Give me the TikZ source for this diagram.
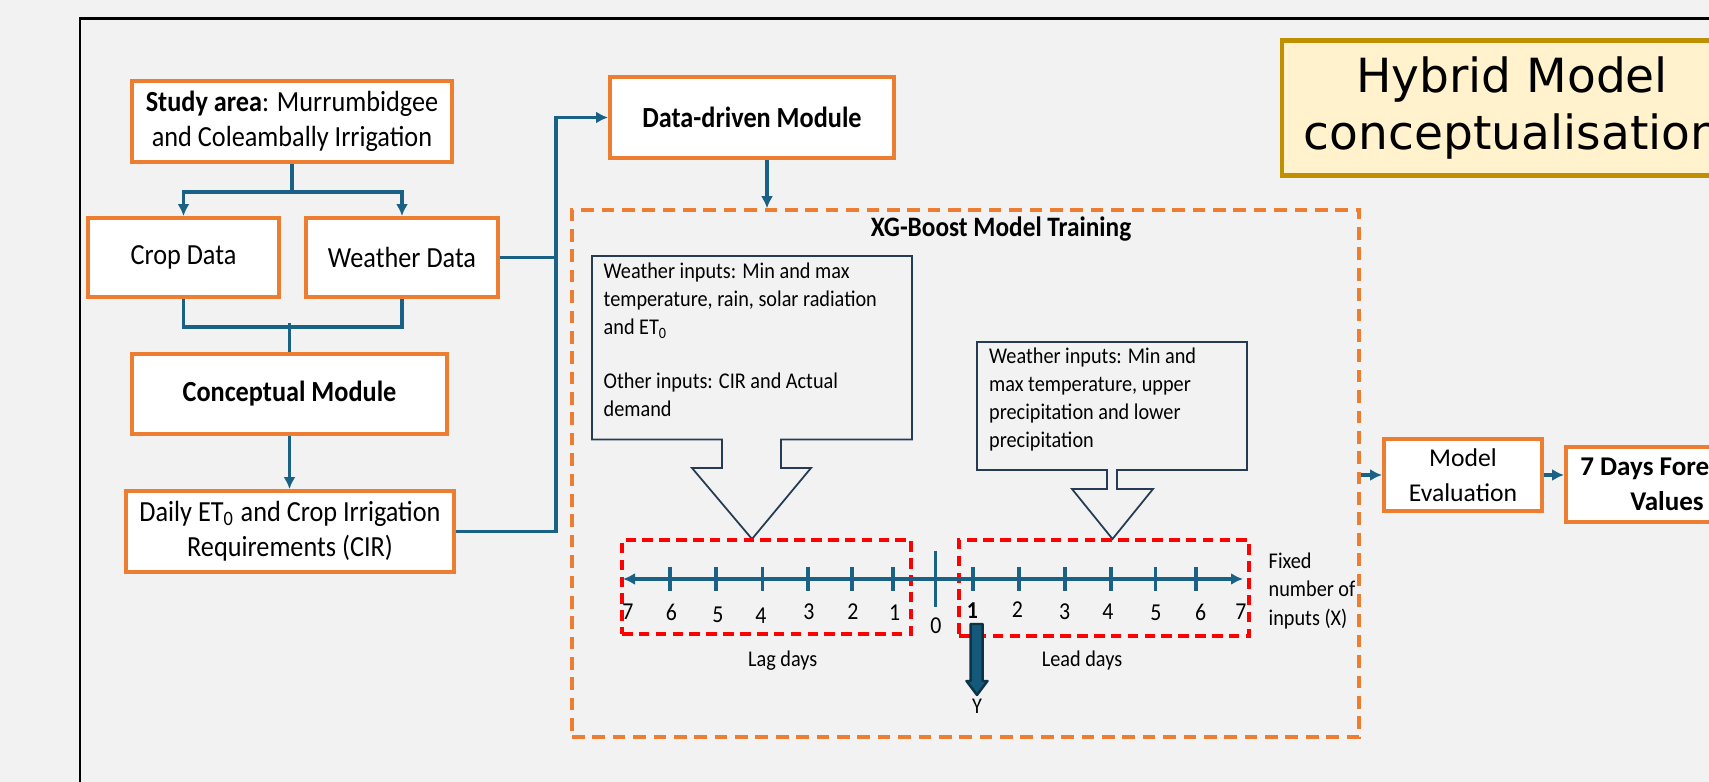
\documentclass[tikz,border=0pt]{standalone}
\usepackage{fontspec}
\setmainfont{Carlito}[FakeStretch=0.9]
\newfontfamily\widefont{Carlito}
\newfontfamily\titlefont{DejaVu Sans}
\usepackage{tikz}
\usetikzlibrary{arrows.meta}
\usetikzlibrary{calc}

\definecolor{bggray}{HTML}{F2F2F2}
\definecolor{boxorange}{HTML}{ED7D31}
\definecolor{linkblue}{HTML}{1A6285}
\definecolor{calloutblue}{HTML}{243B53}
\definecolor{titlegold}{HTML}{BF9000}
\definecolor{titlefill}{HTML}{FFF2CC}
\definecolor{yfill}{HTML}{15597A}
\definecolor{yedge}{HTML}{0E3347}

\begin{document}
\begin{tikzpicture}[x=0.1mm, y=-0.1mm,
	box/.style={draw=boxorange, line width=1.1pt, fill=white, align=center, inner sep=0pt, font=\fontsize{8.3}{10}\selectfont},
	conn/.style={draw=linkblue, line width=1.1pt},
	arr/.style={conn, -{Latex[length=1.2mm,width=1.2mm]}},
	callout/.style={draw=calloutblue, line width=0.5pt, line join=miter},
	small/.style={inner sep=0pt, font=\fontsize{6.4}{8}\selectfont},
	digit/.style={inner sep=0pt, font=\fontsize{6.9}{8}\selectfont},
	reddash/.style={draw=red, line width=1.1pt, dash pattern=on 3pt off 1.8pt},
	axis/.style={draw=linkblue, line width=1pt}]
	\useasboundingbox (0,0) rectangle (1709,782);
	\fill[bggray] (0,0) rectangle (1709,782);
	\clip (0,0) rectangle (1709,782);
	\draw[line width=0.7pt] (80,18.5) rectangle (1800,900);

	\node (title) at (1512,108) [draw=titlegold, line width=1.2pt, fill=titlefill, minimum width=46mm, minimum height=13.5mm, align=center, font=\titlefont\fontsize{13.4}{16.4}\selectfont] {Hybrid Model\\conceptualisation};

	\node (study) at (292,121.5) [box, minimum width=32mm, minimum height=8.1mm] {\textbf{Study area}: Murrumbidgee\\and Coleambally Irrigation};
	\node (crop) at (183.5,257.5) [box, minimum width=19.1mm, minimum height=7.9mm] {Crop Data};
	\node (weather) at (402,257.5) [box, minimum width=19.2mm, minimum height=7.9mm] {Weather Data};
	\node (concept) at (289.5,394) [box, minimum width=31.5mm, minimum height=8mm] {\textbf{Conceptual Module}};
	\node (daily) at (290,531.5) [box, minimum width=32.8mm, minimum height=8.1mm] {Daily ET\textsubscript{0} and Crop Irrigation\\Requirements (CIR)};
	\node (datadriven) at (752,117.5) [box, minimum width=28.4mm, minimum height=8.1mm] {\textbf{Data-driven Module}};
	\node (eval) at (1463,475) [box, minimum width=15.8mm, minimum height=7.2mm, font=\widefont\fontsize{7.3}{9.9}\selectfont] {Model\\Evaluation};
	\node (days) at (1667,484.5) [box, minimum width=20.2mm, minimum height=7.5mm, font=\widefont\bfseries\fontsize{7.7}{10}\selectfont] {7 Days Forecast\\Values};

	\node (xgbox) at (965.5,473.5) [draw=boxorange, line width=1pt, dash pattern=on 3.6pt off 2.2pt, minimum width=78.7mm, minimum height=52.7mm] {};
	\node (xgtitle) at (1001,229) [inner sep=0pt, font=\bfseries\fontsize{8}{10}\selectfont] {XG-Boost Model Training};

	\draw[arr] (study.south) -- ++(0,28) -| (crop.north);
	\draw[arr] (study.south) -- ++(0,28) -| (weather.north);
	\draw[conn] (crop.south) -- ++(0,28) -| (weather.south);
	\draw[conn] (concept.north) -- ++(0,-29);
	\draw[arr] (concept.south) -- (concept.south |- daily.north);
	\draw[conn] (weather.east) -- ++(56,0);
	\draw[arr] (daily.east) -- ++(100,0) |- (datadriven.west);
	\draw[arr] ([xshift=1.5mm]datadriven.south) -- ([xshift=1.5mm]datadriven.south |- xgbox.north);
	\draw[arr] (xgbox.east |- eval.west) -- (eval.west);
	\draw[arr] (eval.east) -- (eval.east -| days.west);

	\draw[callout] (592,256) -- (912,256) -- (912,439.5) -- (781,439.5) -- (781,468) -- (811,468) -- (752,539) -- (692,468) -- (722,468) -- (722,439.5) -- (592,439.5) -- cycle;
	\node (lagtext) at (603,262) [small, anchor=north west, align=left] {Weather inputs: Min and max\\temperature, rain, solar radiation\\and ET\textsubscript{0}\\[7.4pt]Other inputs: CIR and Actual\\demand};
	\draw[callout] (977,342) -- (1247,342) -- (1247,470) -- (1117,470) -- (1117,489) -- (1153,489) -- (1112.5,539) -- (1072,489) -- (1107,489) -- (1107,470) -- (977,470) -- cycle;
	\node (leadtext) at (988.5,347) [small, anchor=north west, align=left] {Weather inputs: Min and\\max temperature, upper\\precipitation and lower\\precipitation};

	\node (lagbox) at (766.5,587) [reddash, minimum width=28.9mm, minimum height=9.4mm] {};
	\node (leadbox) at (1104,588) [reddash, minimum width=29mm, minimum height=9.6mm] {};

	\draw[axis, {Latex[length=1.2mm,width=1.2mm]}-{Latex[length=1.2mm,width=1.2mm]}] (623,579) -- (1243,579);
	\foreach \x in {670,716,762.5,808,852,893,973,1019,1065,1111,1155.5,1196}
		\draw[axis] (\x,567) -- (\x,591);
	\draw[axis] (935.5,551) -- (935.5,607);
	\foreach \x/\y/\n in {628/612/7,671.5/612/6,717.8/615/5,760.8/616/4,809/612/3,853/612/2,894.6/613/1}
		\node (lag\n) at (\x,\y) [digit] {\n};
	\foreach \x/\y/\n in {1017.5/610/2,1064.6/612/3,1108/612/4,1156/613/5,1200.6/612/6,1241/612/7}
		\node (lead\n) at (\x,\y) [digit] {\n};
	\node (lead1) at (972.5,611) [digit] {\textbf{1}};
	\node (zero) at (936,626) [digit] {0};
	\node (lagdays) at (782.7,661) [small] {Lag days};
	\node (leaddays) at (1082,661) [small] {Lead days};
	\node (fixed) at (1268,591) [small, anchor=west, align=left] {Fixed\\number of\\inputs (X)};

	\node (ylab) at (977,706) [small] {Y};
	\draw[fill=yfill, draw=yedge, line width=0.7pt, line join=round] (970.7,624) -- (982.7,624) -- (982.7,681) -- (987.5,681) -- (977,695) -- (966.5,681) -- (970.7,681) -- cycle;
\end{tikzpicture}
\end{document}
